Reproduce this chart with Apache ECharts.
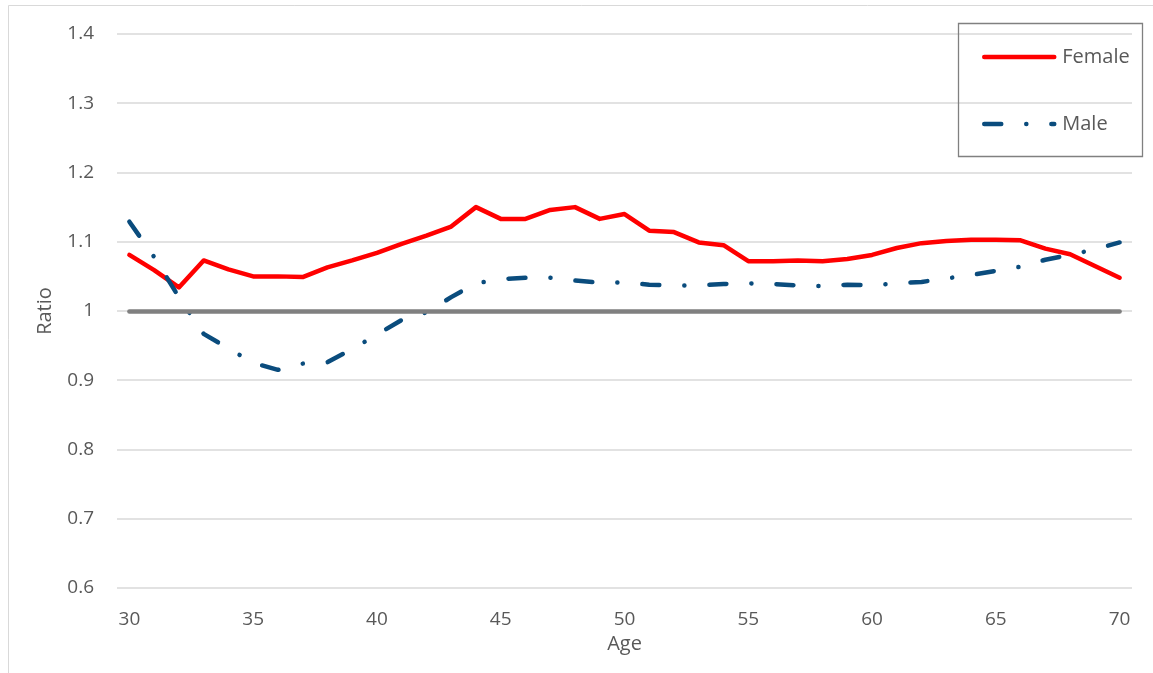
<!DOCTYPE html>
<html>
<head>
<meta charset="utf-8">
<script src="https://cdn.jsdelivr.net/npm/echarts@6/dist/echarts.min.js"></script>
<style>
  html, body { margin: 0; padding: 0; background: #fff; }
  #chart { width: 1153px; height: 673px; }
</style>
</head>
<body>
<div id="chart"></div>
<script>
// Ages on the horizontal axis
const ages = [30, 31, 32, 33, 34, 35, 36, 37, 38, 39,
              40, 41, 42, 43, 44, 45, 46, 47, 48, 49,
              50, 51, 52, 53, 54, 55, 56, 57, 58, 59,
              60, 61, 62, 63, 64, 65, 66, 67, 68, 69,
              70];

// Ratio by age
const female = [1.081, 1.059, 1.034, 1.073, 1.060, 1.050, 1.050, 1.049, 1.063, 1.073,
                1.084, 1.097, 1.109, 1.122, 1.150, 1.133, 1.133, 1.146, 1.150, 1.133,
                1.140, 1.116, 1.114, 1.099, 1.095, 1.072, 1.072, 1.073, 1.072, 1.075,
                1.081, 1.091, 1.098, 1.101, 1.103, 1.103, 1.102, 1.090, 1.082, 1.065,
                1.048];

const male = [1.129, 1.078, 1.020, 0.967, 0.946, 0.925, 0.915, 0.924, 0.926, 0.945,
              0.966, 0.987, 0.998, 1.020, 1.040, 1.046, 1.048, 1.048, 1.044, 1.041,
              1.041, 1.038, 1.037, 1.037, 1.039, 1.040, 1.039, 1.037, 1.036, 1.038,
              1.037, 1.040, 1.042, 1.047, 1.052, 1.058, 1.064, 1.074, 1.081, 1.089,
              1.099];

// Parity reference level
const parity = 1;

// Value axis range
const yMin = 0.6;
const yMax = 1.4;
const yStep = 0.1;

const FONT = '"Open Sans", "Noto Sans", sans-serif';
const TEXT_COLOR = '#595959';
const GRID_COLOR = '#d9d9d9';
const MALE_DASH = [17, 25, 0.1, 25];

const chart = echarts.init(document.getElementById('chart'), null, { renderer: 'canvas' });

chart.setOption({
  backgroundColor: '#ffffff',
  animation: false,
  textStyle: { fontFamily: FONT },
  grid: { left: 117, right: 21, top: 34, bottom: 85, containLabel: false },
  graphic: [
    {
      type: 'rect',
      silent: true,
      shape: { x: 8.5, y: 5.5, width: 1170, height: 700 },
      style: { fill: 'none', stroke: GRID_COLOR, lineWidth: 1 }
    },
    {
      type: 'rect',
      silent: true,
      z: 10,
      shape: { x: 958.5, y: 23.5, width: 184, height: 133 },
      style: { fill: 'none', stroke: '#808080', lineWidth: 1.3 }
    }
  ],
  legend: {
    data: [
      { name: 'Female', lineStyle: { width: 4.5, cap: 'round', type: 'solid' } },
      { name: 'Male', lineStyle: { width: 4.5, cap: 'round', type: MALE_DASH } }
    ],
    orient: 'vertical',
    left: 982,
    top: 47,
    padding: 0,
    itemWidth: 70,
    itemHeight: 20,
    itemGap: 47,
    itemStyle: { opacity: 0, borderWidth: 0 },
    textStyle: { fontFamily: FONT, fontSize: 20, color: TEXT_COLOR, lineHeight: 20, padding: [0, 0, 0, 3] }
  },
  xAxis: {
    type: 'category',
    data: ages,
    boundaryGap: true,
    name: 'Age',
    nameLocation: 'middle',
    nameGap: 44,
    nameTextStyle: { fontFamily: FONT, fontSize: 20, color: TEXT_COLOR },
    axisLine: { show: false },
    axisTick: { show: false },
    axisLabel: { interval: 4, margin: 22, fontFamily: FONT, fontSize: 19, color: TEXT_COLOR },
    splitLine: { show: false }
  },
  yAxis: {
    type: 'value',
    min: yMin,
    max: yMax,
    interval: yStep,
    name: 'Ratio',
    nameLocation: 'middle',
    nameGap: 62,
    nameTextStyle: { fontFamily: FONT, fontSize: 20, color: TEXT_COLOR },
    axisLine: { show: false },
    axisTick: { show: false },
    axisLabel: {
      margin: 23,
      fontFamily: FONT,
      fontSize: 19,
      color: TEXT_COLOR,
      formatter: (v) => String(Math.round(v * 10) / 10)
    },
    splitLine: { lineStyle: { color: GRID_COLOR, width: 1.5 } }
  },
  series: [
    {
      name: 'Female',
      type: 'line',
      data: female,
      symbol: 'none',
      color: '#ff0000',
      lineStyle: { color: '#ff0000', width: 4.5, cap: 'round', join: 'round' }
    },
    {
      name: 'Male',
      type: 'line',
      data: male,
      symbol: 'none',
      color: '#0a4c7d',
      lineStyle: { color: '#0a4c7d', width: 4.5, cap: 'round', join: 'round', type: MALE_DASH }
    },
    {
      name: 'Parity',
      type: 'line',
      data: [],
      symbol: 'none',
      markLine: {
        silent: true,
        symbol: 'none',
        label: { show: false },
        lineStyle: { color: '#808080', width: 4.5, type: 'solid', cap: 'round' },
        data: [[
          { coord: [String(ages[0]), parity] },
          { coord: [String(ages[ages.length - 1]), parity] }
        ]]
      }
    }
  ]
});
</script>
</body>
</html>
